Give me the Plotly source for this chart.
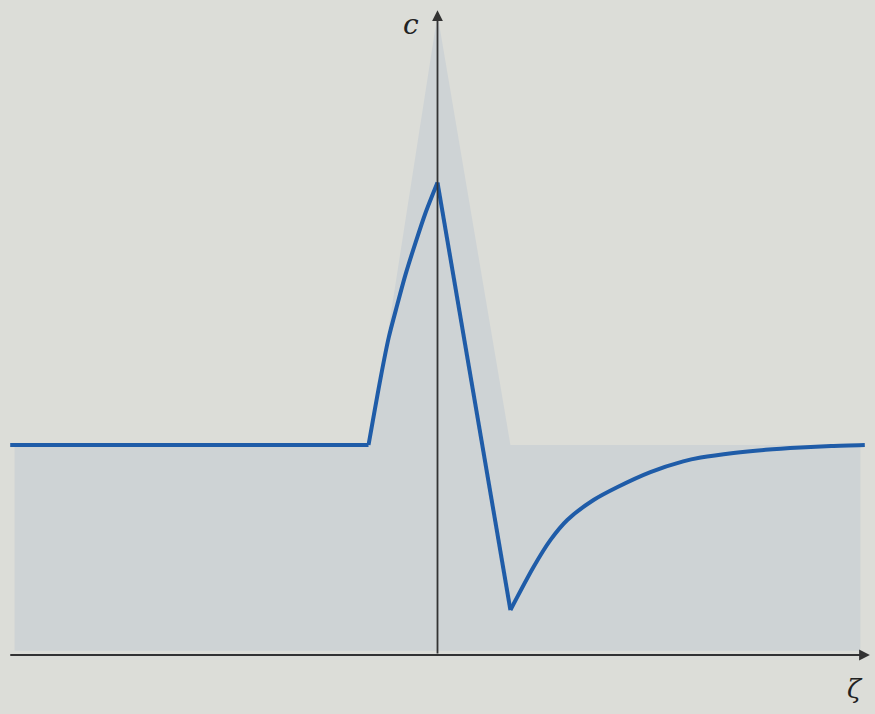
import plotly.graph_objects as go

# Curve c(zeta)
zeta = [-5.86, -0.946, -0.78, -0.67, -0.55, -0.44, -0.30, -0.165, 0.0,
        1.0, 1.317, 1.55, 1.78, 2.14, 2.47, 2.92, 3.37, 3.61, 4.06, 4.5, 4.98, 5.4, 5.86]
c = [1.0, 1.0, 1.32, 1.51, 1.67, 1.81, 1.965, 2.105, 2.25,
     0.214, 0.419, 0.548, 0.643, 0.738, 0.80, 0.871, 0.922, 0.940, 0.962, 0.977, 0.988, 0.995, 1.0]

# Shaded region outline
shade_x = [-5.8, -5.8, -0.92, 0.0, 1.0, 5.8, 5.8]
shade_y = [0.02, 1.0, 1.0, 3.05, 1.0, 1.0, 0.02]

# segments of the curve: (start index, end index inclusive, shape)
segments = [(0, 1, "linear"), (1, 8, "spline"), (8, 9, "linear"), (9, 22, "spline")]

bg = "#dcddd8"
line_color = "#1f5ca8"
fig = go.Figure()
fig.add_trace(go.Scatter(x=shade_x, y=shade_y, fill="toself", mode="lines",
                         line=dict(width=0), fillcolor="#ced3d5", hoverinfo="skip"))
for a, b, shp in segments:
    fig.add_trace(go.Scatter(x=zeta[a:b + 1], y=c[a:b + 1], mode="lines",
                             line=dict(color=line_color, width=4, shape=shp, smoothing=0.8),
                             hoverinfo="skip"))

# axes with arrows
fig.add_annotation(x=5.93, y=0, ax=-5.88, ay=0, xref="x", yref="y", axref="x", ayref="y",
                   showarrow=True, arrowhead=2, arrowsize=1.2, arrowwidth=1.8, arrowcolor="#333333", text="")
fig.add_annotation(x=0, y=3.07, ax=0, ay=0, xref="x", yref="y", axref="x", ayref="y",
                   showarrow=True, arrowhead=2, arrowsize=1.2, arrowwidth=1.8, arrowcolor="#333333", text="")
fig.add_annotation(x=-0.37, y=3.0, xref="x", yref="y", text="<i>c</i>", showarrow=False,
                   font=dict(family="DejaVu Serif", size=28, color="#222222"))
fig.add_annotation(x=5.72, y=-0.16, xref="x", yref="y", text="<i>ζ</i>", showarrow=False,
                   font=dict(family="DejaVu Serif", size=26, color="#222222"))

fig.update_xaxes(range=[-6.0, 6.0], visible=False, fixedrange=True)
fig.update_yaxes(range=[-0.281, 3.119], visible=False, fixedrange=True)
fig.update_layout(width=875, height=714, margin=dict(l=0, r=0, t=0, b=0),
                  paper_bgcolor=bg, plot_bgcolor=bg, showlegend=False)
fig.write_html("out.html", config={"displayModeBar": False},
               post_script="document.body.style.margin='0';document.body.style.background='%s';" % bg)
